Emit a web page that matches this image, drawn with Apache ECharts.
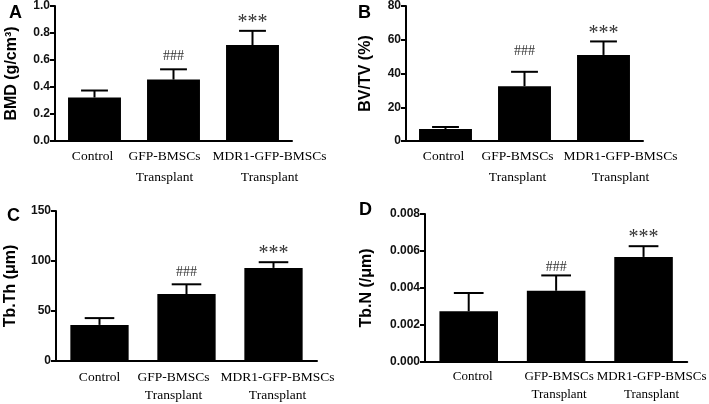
<!DOCTYPE html>
<html>
<head>
<meta charset="utf-8">
<script src="https://cdn.jsdelivr.net/npm/echarts@6/dist/echarts.min.js"></script>
<style>
  html, body { margin: 0; padding: 0; background: #fff; }
  #chart { width: 709px; height: 404px; }
</style>
</head>
<body>
<div id="chart"></div>
<script>
// 分组与标注
const categories = ["Control", "GFP-BMSCs\nTransplant", "MDR1-GFP-BMSCs\nTransplant"];
const marks = ["", "###", "***"];

// A: BMD
const bmdMean = [0.322, 0.455, 0.711];
const bmdSem = [0.052, 0.076, 0.105];
// B: BV/TV
const bvtvMean = [7.1, 32.5, 51.0];
const bvtvSem = [1.2, 8.5, 8.0];
// C: Tb.Th
const tbthMean = [36.1, 67.0, 93.1];
const tbthSem = [6.8, 9.7, 5.7];
// D: Tb.N
const tbnMean = [0.00274, 0.00385, 0.00568];
const tbnSem = [0.00099, 0.00083, 0.00058];

// 每个小图的样式与位置
const panels = [
  { letter: "A", name: "BMD (g/cm³)", mean: bmdMean, sem: bmdSem, max: 1, interval: 0.2, digits: 1,
    grid: { left: 55, top: 5, width: 237, height: 136 }, nameGap: 35, lh: 21, margin: 5, catSize: 13.5,
    shift: [-2, -9, 17], hashLift: 6, letterPos: [9, 4] },
  { letter: "B", name: "BV/TV (%)", mean: bvtvMean, sem: bvtvSem, max: 80, interval: 20, digits: 0,
    grid: { left: 406, top: 5, width: 237, height: 136 }, nameGap: 32, lh: 21, margin: 5, catSize: 13.5,
    shift: [-2, -7, 17], hashLift: 13, letterPos: [358, 4] },
  { letter: "C", name: "Tb.Th (μm)", mean: tbthMean, sem: tbthSem, max: 150, interval: 50, digits: 0,
    grid: { left: 56, top: 211, width: 261, height: 150 }, nameGap: 37, lh: 18, margin: 7, catSize: 13.5,
    shift: [0, -13, 4], hashLift: 5, letterPos: [7, 207] },
  { letter: "D", name: "Tb.N (/μm)", mean: tbnMean, sem: tbnSem, max: 0.008, interval: 0.002, digits: 3,
    grid: { left: 425, top: 214, width: 265, height: 149 }, nameGap: 50, lh: 18, margin: 6, catSize: 13,
    shift: [4, 3, 8], hashLift: 1, letterPos: [359, 201] },
];

const markFont = { "###": 14, "***": 20 };

const chart = echarts.init(document.getElementById("chart"));

const grid = [], xAxis = [], yAxis = [], series = [], graphic = [];

panels.forEach((p, k) => {
  grid.push(p.grid);

  // 标签左右微调（原图标签并不居中）
  const rich = {};
  p.shift.forEach((s, i) => {
    rich["c" + i] = {
      fontFamily: "Liberation Serif",
      fontSize: p.catSize,
      lineHeight: p.lh,
      color: "#000",
      padding: s > 0 ? [0, 0, 0, 2 * s] : [0, -2 * s, 0, 0],
    };
  });

  xAxis.push({
    type: "category",
    gridIndex: k,
    data: categories,
    axisLine: { lineStyle: { color: "#000", width: 2 } },
    axisTick: { alignWithLabel: true, length: 5, lineStyle: { color: "#000", width: 2 } },
    axisLabel: {
      interval: 0,
      margin: p.margin,
      fontFamily: "Liberation Serif",
      fontSize: p.catSize,
      lineHeight: p.lh,
      color: "#000",
      formatter: (v, i) => "{c" + i + "|" + v + "}",
      rich,
    },
  });

  yAxis.push({
    type: "value",
    gridIndex: k,
    min: 0,
    max: p.max,
    interval: p.interval,
    name: p.name,
    nameLocation: "middle",
    nameGap: p.nameGap,
    nameTextStyle: { fontFamily: "Liberation Sans", fontWeight: "bold", fontSize: 16, color: "#000" },
    axisLine: { show: true, lineStyle: { color: "#000", width: 2 } },
    axisTick: { show: true, length: 5, lineStyle: { color: "#000", width: 2 } },
    splitLine: { show: false },
    axisLabel: {
      margin: 5,
      fontFamily: "Liberation Sans",
      fontWeight: "bold",
      fontSize: 12,
      color: "#111",
      formatter: (v) => v.toFixed(p.digits),
    },
  });

  series.push({
    type: "bar",
    xAxisIndex: k,
    yAxisIndex: k,
    data: p.mean,
    barWidth: "67%",
    itemStyle: { color: "#000" },
    silent: true,
  });

  // 误差线 + 显著性标注
  series.push({
    type: "custom",
    xAxisIndex: k,
    yAxisIndex: k,
    data: p.mean.map((m, i) => [i, m, p.sem[i]]),
    silent: true,
    z: 3,
    renderItem: (params, api) => {
      const i = api.value(0);
      const m = api.value(1);
      const e = api.value(2);
      const top = api.coord([i, m]);
      const up = api.coord([i, m + e]);
      const half = api.size([1, 0])[0] * 0.17;
      const mk = marks[params.dataIndex];
      const children = [
        { type: "line", shape: { x1: top[0], y1: top[1], x2: up[0], y2: up[1] },
          style: { stroke: "#000", lineWidth: 2 } },
        { type: "line", shape: { x1: up[0] - half, y1: up[1], x2: up[0] + half, y2: up[1] },
          style: { stroke: "#000", lineWidth: 2 } },
      ];
      if (mk) {
        const fs = markFont[mk];
        children.push({
          type: "text",
          x: up[0],
          y: up[1] - (mk === "***" ? -2 : p.hashLift),
          style: {
            text: mk,
            fill: "#333",
            font: fs + "px 'Liberation Serif'",
            align: "center",
            verticalAlign: "bottom",
          },
        });
      }
      return { type: "group", children };
    },
  });

  graphic.push({
    type: "text",
    left: p.letterPos[0],
    top: p.letterPos[1],
    style: { text: p.letter, font: "bold 18px 'Liberation Sans'", fill: "#000" },
  });
});

chart.setOption({
  animation: false,
  grid,
  xAxis,
  yAxis,
  series,
  graphic,
});
</script>
</body>
</html>
